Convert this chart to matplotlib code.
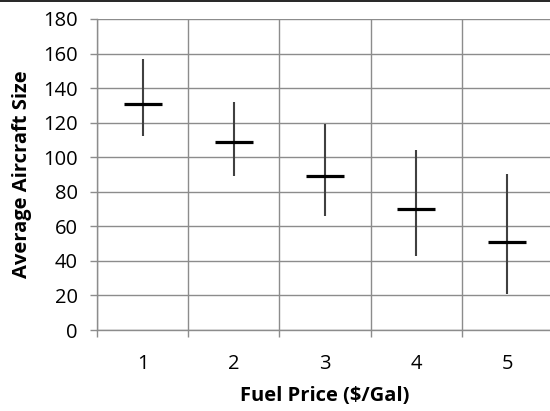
import matplotlib
matplotlib.use("Agg")
import matplotlib.pyplot as plt
from matplotlib.lines import Line2D

fuel_price = [1, 2, 3, 4, 5]
avg_size = [131, 109, 89, 70, 51]
high = [157, 132, 119, 104, 90]
low = [112, 89, 66, 43, 21]
y_ticks = [0, 20, 40, 60, 80, 100, 120, 140, 160, 180]

plt.rcParams['font.family'] = ['Open Sans', 'DejaVu Sans']
grid_c = '#8c8c8c'

fig = plt.figure(figsize=(5.5, 4.11), dpi=100)
ax = fig.add_axes([97/550, (411-330)/411, (553-97)/550, (330-19)/411])

ax.vlines(fuel_price, low, high, color='#404040', lw=1.5, zorder=3)
ax.plot(fuel_price, avg_size, ls='none', marker='_', ms=27.5, mew=2.3,
        color='black', zorder=4)

ax.set_xlim(0.5, 5.5)
ax.set_ylim(0, 180)
ax.set_yticks(y_ticks)
ax.set_xticks([i + 0.5 for i in range(0, 6)])
ax.set_xticklabels([])
ax.set_xticks(fuel_price, minor=True)
ax.set_xticklabels([str(v) for v in fuel_price], minor=True)
ax.tick_params(axis='x', which='minor', length=0, pad=17, labelsize=14.5)
ax.tick_params(axis='x', which='major', length=5, color=grid_c, width=1)
ax.tick_params(axis='y', length=5, color=grid_c, width=1, pad=9, labelsize=14.5)

ax.grid(True, which='major', color=grid_c, lw=1)
ax.set_axisbelow(True)
for s in ['top', 'right']:
    ax.spines[s].set_visible(False)
for s in ['left', 'bottom']:
    ax.spines[s].set_color(grid_c)
    ax.spines[s].set_linewidth(1)

ax.set_xlabel('Fuel Price ($/Gal)', fontsize=14.5, fontweight='bold', labelpad=9)
ax.set_ylabel('Average Aircraft Size', fontsize=14.5, fontweight='bold', labelpad=8)

fig.add_artist(Line2D([0, 1], [1 - 1.5/411, 1 - 1.5/411], color='black', lw=1.2,
                      transform=fig.transFigure))

fig.savefig('out.png', dpi=100)
